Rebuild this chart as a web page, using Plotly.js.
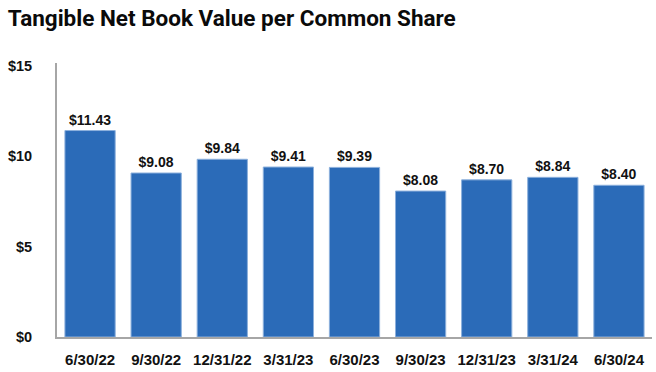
<!DOCTYPE html>
<html><head><meta charset="utf-8">
<script src="https://cdn.plot.ly/plotly-3.0.1.min.js"></script>
<style>html,body{margin:0;padding:0;background:#fff}#c{width:656px;height:372px}</style>
</head><body><div id="c"></div>
<script>
const categories = ["6/30/22","9/30/22","12/31/22","3/31/23","6/30/23","9/30/23","12/31/23","3/31/24","6/30/24"];
const values = [11.43, 9.08, 9.84, 9.41, 9.39, 8.08, 8.70, 8.84, 8.40];
const yTickVals = [0, 5, 10, 15];
const yTickText = ["$0", "$5", "$10", "$15"];

const trace = {
  type: "bar",
  x: categories,
  y: values,
  text: values.map(v => "$" + v.toFixed(2)),
  textposition: "outside",
  cliponaxis: false,
  textfont: {family: "Liberation Sans, Arial, sans-serif", size: 14, color: "#111", weight: 700},
  marker: {color: "#2B6BB8", line: {color: "#8CB0DC", width: 1}},
  hoverinfo: "none"
};

const layout = {
  width: 656, height: 372,
  margin: {l: 57, r: 4, t: 63, b: 35},
  paper_bgcolor: "#fff", plot_bgcolor: "#fff",
  bargap: 0.24,
  showlegend: false,
  title: {
    text: "<b>Tangible Net Book Value per Common Share</b>",
    x: 0.012, xanchor: "left", y: 0.95, yanchor: "middle",
    font: {family: "Roboto, sans-serif", size: 22.5, color: "#0a0a0a", weight: 900}
  },
  xaxis: {
    type: "category",
    showline: true, linecolor: "#A6A6A6", linewidth: 2,
    showgrid: false, zeroline: false,
    ticks: "", ticklabelstandoff: 8,
    tickfont: {family: "Liberation Sans, Arial, sans-serif", size: 15, color: "#111", weight: 700}
  },
  yaxis: {
    range: [0, 15.17],
    tickvals: yTickVals, ticktext: yTickText,
    showline: true, linecolor: "#A6A6A6", linewidth: 2,
    showgrid: false, zeroline: false,
    ticks: "", ticklabelstandoff: 20,
    tickfont: {family: "Liberation Sans, Arial, sans-serif", size: 14.5, color: "#111", weight: 700}
  }
};

Plotly.newPlot("c", [trace], layout, {displayModeBar: false, staticPlot: true});
</script>
</body></html>
